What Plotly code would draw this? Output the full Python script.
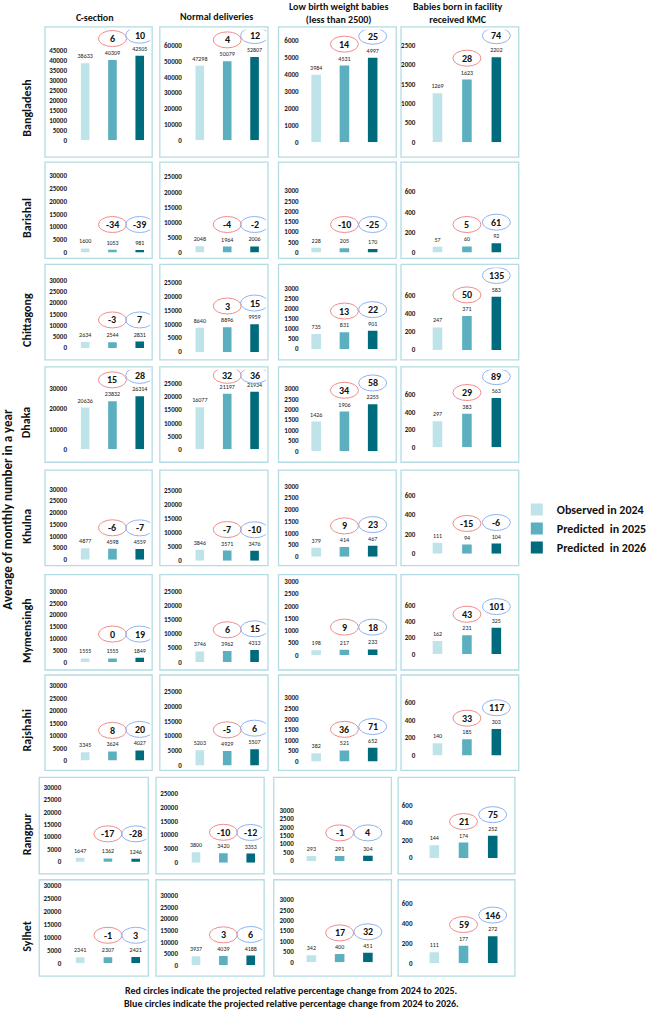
import plotly.graph_objects as go

# ---------------- DATA ----------------
regions = ["Bangladesh", "Barishal", "Chittagong", "Dhaka", "Khulna",
           "Mymensingh", "Rajshahi", "Rangpur", "Sylhet"]
indicator_titles = ["C-section", "Normal deliveries",
                    "Low birth weight babies<br>(less than 2500)",
                    "Babies born in facility<br>received KMC"]
series_names = ["Observed in 2024", "Predicted  in 2025", "Predicted  in 2026"]

csec_2024 = [38633, 1600, 2634, 20636, 4877, 1555, 3345, 1647, 2341]
csec_2025 = [40309, 1053, 2544, 23832, 4598, 1555, 3624, 1362, 2307]
csec_2026 = [42505, 981, 2831, 26314, 4559, 1849, 4027, 1246, 2421]
csec_chg25 = [6, -34, -3, 15, -6, 0, 8, -17, -1]
csec_chg26 = [10, -39, 7, 28, -7, 19, 20, -28, 3]

normal_2024 = [47298, 2048, 8640, 16077, 3846, 3746, 5203, 3800, 3937]
normal_2025 = [50079, 1964, 8896, 21197, 3571, 3962, 4929, 3420, 4039]
normal_2026 = [52807, 2006, 9959, 21934, 3476, 4313, 5507, 3353, 4188]
normal_chg25 = [4, -4, 3, 32, -7, 6, -5, -10, 3]
normal_chg26 = [12, -2, 15, 36, -10, 15, 6, -12, 6]

lbw_2024 = [3984, 228, 735, 1426, 379, 198, 382, 293, 342]
lbw_2025 = [4531, 205, 831, 1906, 414, 217, 521, 291, 400]
lbw_2026 = [4997, 170, 901, 2255, 467, 233, 652, 304, 451]
lbw_chg25 = [14, -10, 13, 34, 9, 9, 36, -1, 17]
lbw_chg26 = [25, -25, 22, 58, 23, 18, 71, 4, 32]

kmc_2024 = [1269, 57, 247, 297, 111, 162, 140, 144, 111]
kmc_2025 = [1623, 60, 371, 383, 94, 231, 185, 174, 177]
kmc_2026 = [2202, 92, 583, 563, 104, 325, 303, 252, 272]
kmc_chg25 = [28, 5, 50, 29, -15, 43, 33, 21, 59]
kmc_chg26 = [74, 61, 135, 89, -6, 101, 117, 75, 146]

# axis tick maxima / steps per panel (rows = regions, cols = indicators)
tick_max = [[45000, 60000, 6000, 2500]] + \
           [[30000, 25000, 3000, 600]] * 7 + [[30000, 30000, 3000, 600]]
tick_step = [[5000, 10000, 1000, 500], [5000, 5000, 500, 200], [5000, 5000, 500, 200],
             [10000, 5000, 500, 200], [5000, 5000, 500, 200], [5000, 5000, 500, 200],
             [5000, 5000, 500, 200], [5000, 5000, 500, 200], [5000, 5000, 500, 200]]

values = [
    (csec_2024, csec_2025, csec_2026, csec_chg25, csec_chg26),
    (normal_2024, normal_2025, normal_2026, normal_chg25, normal_chg26),
    (lbw_2024, lbw_2025, lbw_2026, lbw_chg25, lbw_chg26),
    (kmc_2024, kmc_2025, kmc_2026, kmc_chg25, kmc_chg26),
]

# ---------------- LAYOUT / STYLE ----------------
W, H = 652, 1013
FONT = "Carlito, Lato, 'Open Sans', sans-serif"
bar_colors = ["#BEE4E9", "#5BAFBF", "#006B7D"]
red_col = "#F08C8C"
blue_col = "#8EB3F2"
border_col = "#B3DCE4"

row_y = [(25, 156), (161, 258), (264, 360), (367, 463), (471, 567),
         (576, 672), (677, 773), (780, 877), (883, 980)]
col_x_main = [(47, 159), (167, 280), (291, 414), (419, 542)]
col_x_low = [(41, 155), (163, 276), (286, 409), (416, 538)]
label_w = [24, 24, 22, 16]
bar_frac = [(0.375, 0.884), (0.37, 0.876), (0.32, 0.80), (0.31, 0.81)]
bar_px = [9, 9, 10, 10]
zero_px = [[139, 139, 141, 141], [252, 252, 252, 252], [348, 352, 349, 350],
           [450, 450, 452, 448], [561, 562, 558, 555], [664, 664, 657, 656],
           [763, 768, 764, 758], [865, 866, 864, 861], [967, 969, 966, 967]]
top_px = [[49, 44, 39, 44], [175, 176, 190, 191], [280, 282, 288, 295],
          [389, 384, 389, 395], [490, 491, 487, 496], [593, 593, 583, 607],
          [688, 694, 700, 705], [790, 796, 813, 808], [889, 899, 903, 907]]

fig = go.Figure()
shapes = []
annotations = []
layout_axes = {}

n = 0
for r, region in enumerate(regions):
    pt, pb = row_y[r]
    for c in range(4):
        n += 1
        sfx = "" if n == 1 else str(n)
        pl, pr = (col_x_low if r >= 7 else col_x_main)[c]
        # x mapping
        dl, dr = pl + label_w[c], pr - 2
        b0 = pl + bar_frac[c][0] * (pr - pl)
        b2 = pl + bar_frac[c][1] * (pr - pl)
        ppx = (b2 - b0) / 2.0
        xr = [(dl - b0) / ppx, (dr - b0) / ppx]
        bw = bar_px[c] / ppx
        # y mapping
        z = zero_px[r][c]
        t = top_px[r][c]
        dtop = pt + 3
        ppy = (z - t) / tick_max[r][c]
        yr = [0, (z - dtop) / ppy]

        layout_axes["xaxis" + sfx] = dict(domain=[dl / W, dr / W], range=xr,
                                          visible=False, anchor="y" + sfx, fixedrange=True)
        layout_axes["yaxis" + sfx] = dict(
            domain=[1 - z / H, 1 - dtop / H], range=yr, anchor="x" + sfx,
            tickvals=list(range(0, tick_max[r][c] + 1, tick_step[r][c])),
            tickformat="d",
            showgrid=False, zeroline=False, showline=False, ticks="",
            tickfont=dict(size=7, family=FONT, color="#222", weight="bold"),
            fixedrange=True)

        series = values[c]
        for k in range(3):
            v = series[k][r]
            fig.add_trace(go.Bar(
                x=[k], y=[v], width=[bw], name=series_names[k],
                marker=dict(color=bar_colors[k], line=dict(width=0)),
                text=[str(v)], textposition="outside", cliponaxis=False,
                constraintext="none",
                textfont=dict(size=6, family=FONT, color="#222"),
                showlegend=(n == 1), legendgroup=str(k),
                xaxis="x" + sfx, yaxis="y" + sfx, hoverinfo="skip"))

        # panel border
        shapes.append(dict(type="rect", xref="paper", yref="paper",
                           x0=pl / W, x1=pr / W, y0=1 - pb / H, y1=1 - pt / H,
                           line=dict(color=border_col, width=1.3), layer="below"))

        # change ellipses
        for k, chg, col in ((1, series[3][r], red_col), (2, series[4][r], blue_col)):
            v = series[k][r]
            cy = max(v * ppy + 21, 28)
            cy = min(cy, z - pt - 9)
            shapes.append(dict(type="circle", xref="x" + sfx, yref="y" + sfx,
                               xsizemode="pixel", ysizemode="pixel",
                               xanchor=k, yanchor=0,
                               x0=-14, x1=14, y0=cy - 8, y1=cy + 8,
                               line=dict(color=col, width=1),
                               fillcolor="rgba(0,0,0,0)"))
            annotations.append(dict(xref="x" + sfx, yref="y" + sfx, x=k, y=0,
                                    yshift=cy, text=str(chg), showarrow=False,
                                    font=dict(size=10, family=FONT, color="#111",
                                              weight="bold")))

    # row label
    cy_lab = (pt + pb) / 2 + (16 if r == 0 else 8)
    annotations.append(dict(xref="paper", yref="paper", x=28 / W, y=1 - cy_lab / H,
                            text=region, textangle=-90, showarrow=False,
                            xanchor="center", yanchor="middle",
                            font=dict(size=12, family=FONT, color="#111", weight="bold")))

# column titles
title_pos = [(99, 16), (226, 15), (354, 11), (479, 11)]
for c, (tx, ty) in enumerate(title_pos):
    annotations.append(dict(xref="paper", yref="paper", x=tx / W, y=1 - ty / H,
                            text=indicator_titles[c], showarrow=False,
                            xanchor="center", yanchor="middle",
                            font=dict(size=10, family=FONT, color="#111", weight="bold")))

# y axis title
annotations.append(dict(xref="paper", yref="paper", x=8 / W, y=1 - 510 / H,
                        text="Average of monthly number in a year", textangle=-90,
                        showarrow=False, xanchor="center", yanchor="middle",
                        font=dict(size=13, family=FONT, color="#111", weight="bold")))

# footnotes
for txt, fy in (("Red circles indicate the projected relative percentage change from 2024 to 2025.", 994),
                ("Blue circles indicate the projected relative percentage change from 2024 to 2026.", 1007)):
    annotations.append(dict(xref="paper", yref="paper", x=305 / W, y=1 - fy / H,
                            text=txt, showarrow=False, xanchor="center", yanchor="middle",
                            font=dict(size=10, family=FONT, color="#111", weight="bold")))

fig.update_layout(
    width=W, height=H, autosize=False,
    margin=dict(l=0, r=0, t=0, b=0),
    paper_bgcolor="white", plot_bgcolor="rgba(0,0,0,0)",
    barmode="overlay",
    shapes=shapes, annotations=annotations,
    showlegend=True,
    legend=dict(x=540 / W, y=1 - 496 / H, xanchor="left", yanchor="top",
                font=dict(size=12, family=FONT, color="#111", weight="bold"),
                itemwidth=30, tracegroupgap=2, bgcolor="rgba(0,0,0,0)",
                traceorder="normal"),
    **layout_axes,
)

fig.write_html("out.html")
